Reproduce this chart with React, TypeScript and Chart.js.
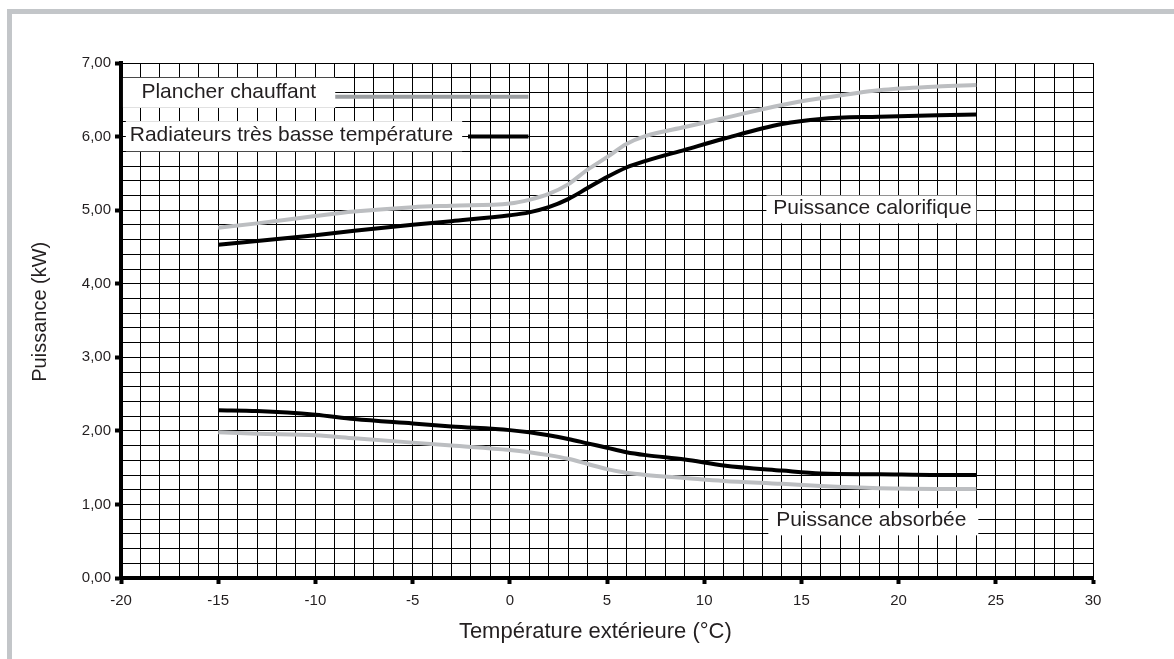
import React, { useEffect, useRef } from "react";
import { Chart, registerables } from "chart.js";

Chart.register(...registerables);

// Outside temperature (°C)
const temperatures = [-15, -13, -10, -8, -5, -3, 0, 1, 2, 3, 4, 5, 6, 7, 9, 11, 14, 16, 19, 22, 24];

// Heating power (kW)
const plancherCalorifique = [4.76, 4.82, 4.92, 4.98, 5.04, 5.06, 5.09, 5.14, 5.22, 5.35, 5.55, 5.72, 5.9, 6.01, 6.13, 6.25, 6.43, 6.52, 6.63, 6.68, 6.7];
const radiateursCalorifique = [4.53, 4.58, 4.66, 4.72, 4.8, 4.85, 4.93, 4.97, 5.04, 5.15, 5.3, 5.45, 5.58, 5.67, 5.82, 5.97, 6.17, 6.24, 6.27, 6.29, 6.3];
// Absorbed power (kW)
const radiateursAbsorbee = [2.28, 2.27, 2.22, 2.16, 2.1, 2.06, 2.01, 1.98, 1.94, 1.89, 1.83, 1.77, 1.71, 1.67, 1.61, 1.53, 1.46, 1.42, 1.41, 1.4, 1.4];
const plancherAbsorbee = [1.98, 1.96, 1.94, 1.9, 1.84, 1.8, 1.74, 1.71, 1.67, 1.62, 1.55, 1.48, 1.43, 1.4, 1.36, 1.32, 1.28, 1.25, 1.22, 1.21, 1.21];

const seriesNames = ["Plancher chauffant", "Radiateurs très basse température"];
const annotationTexts = ["Puissance calorifique", "Puissance absorbée"];
const xTitle = "Température extérieure (°C)";
const yTitle = "Puissance (kW)";

const LIGHT = "#bcbec1";
const LEGEND_LIGHT = "#9b9ea1";
const DARK = "#000000";
const TEXT = "#231f20";
const FONT = '"Liberation Sans", Arial, sans-serif';

// label boxes in data units
const labelBoxes = [
  { text: seriesNames[0], x0: -19.9, x1: -8.98, y0: 6.8, y1: 6.39, tx: -18.95, ty: 6.6, line: { x0: -8.98, x1: 0.96, y: 6.54, color: LEGEND_LIGHT } },
  { text: seriesNames[1], x0: -19.75, x1: -2.45, y0: 6.21, y1: 5.8, tx: -19.55, ty: 6.02, line: { x0: -2.15, x1: 0.96, y: 6.0, color: DARK } },
  { text: annotationTexts[0], x0: 13.2, x1: 24.0, y0: 5.2, y1: 4.82, tx: 13.55, ty: 5.03, line: null },
  { text: annotationTexts[1], x0: 13.3, x1: 24.1, y0: 0.95, y1: 0.58, tx: 13.7, ty: 0.78, line: null },
];

const toPoints = (ys: number[]) => temperatures.map((t, i) => ({ x: t, y: ys[i] }));

const boxesPlugin = {
  id: "labelBoxes",
  beforeDatasetsDraw(chart: any) {
    const { ctx, scales } = chart;
    const xs = scales.x;
    const ys = scales.y;
    ctx.save();
    for (const b of labelBoxes) {
      const x1 = xs.getPixelForValue(b.x0);
      const x2 = xs.getPixelForValue(b.x1);
      const y1 = ys.getPixelForValue(b.y0);
      const y2 = ys.getPixelForValue(b.y1);
      ctx.fillStyle = "#ffffff";
      ctx.fillRect(x1, y1, x2 - x1, y2 - y1);
      ctx.fillStyle = TEXT;
      ctx.font = `21px ${FONT}`;
      ctx.textBaseline = "middle";
      ctx.textAlign = "left";
      ctx.fillText(b.text, xs.getPixelForValue(b.tx), ys.getPixelForValue(b.ty));
      if (b.line) {
        ctx.strokeStyle = b.line.color;
        ctx.lineWidth = 4;
        ctx.beginPath();
        const ly = ys.getPixelForValue(b.line.y);
        ctx.moveTo(xs.getPixelForValue(b.line.x0), ly);
        ctx.lineTo(xs.getPixelForValue(b.line.x1), ly);
        ctx.stroke();
      }
    }
    ctx.restore();
  },
  afterDraw(chart: any) {
    const { ctx, chartArea } = chart;
    ctx.save();
    ctx.fillStyle = TEXT;
    ctx.textAlign = "center";
    ctx.textBaseline = "middle";
    ctx.font = `22px ${FONT}`;
    ctx.fillText(xTitle, chartArea.left + (chartArea.right - chartArea.left) * 0.488, chartArea.bottom + 54);
    ctx.translate(40, chartArea.top + (chartArea.bottom - chartArea.top) * 0.483);
    ctx.rotate(-Math.PI / 2);
    ctx.font = `20px ${FONT}`;
    ctx.fillText(yTitle, 0, 0);
    ctx.restore();
  },
};

const isInt = (v: number) => Math.abs(v - Math.round(v)) < 1e-6;

export default function App() {
  const ref = useRef<HTMLCanvasElement | null>(null);

  useEffect(() => {
    if (!ref.current) return;
    const mk = (label: string, data: number[], color: string) => ({
      label,
      data: toPoints(data),
      borderColor: color,
      backgroundColor: color,
      borderWidth: 4,
      pointRadius: 0,
      cubicInterpolationMode: "monotone" as const,
      fill: false,
    });
    const chart = new Chart(ref.current, {
      type: "line",
      data: {
        datasets: [
          mk(seriesNames[0] + " - " + annotationTexts[0], plancherCalorifique, LIGHT),
          mk(seriesNames[1] + " - " + annotationTexts[0], radiateursCalorifique, DARK),
          mk(seriesNames[1] + " - " + annotationTexts[1], radiateursAbsorbee, DARK),
          mk(seriesNames[0] + " - " + annotationTexts[1], plancherAbsorbee, LIGHT),
        ],
      },
      options: {
        responsive: false,
        animation: false,
        layout: { padding: { left: 0, right: 81, top: 63, bottom: 0 } },
        plugins: { legend: { display: false }, tooltip: { enabled: false } },
        scales: {
          x: {
            type: "linear",
            min: -20,
            max: 30,
            afterFit: (s: any) => {
              s.height = 81;
            },
            ticks: {
              stepSize: 1,
              autoSkip: false,
              maxRotation: 0,
              padding: 8,
              color: TEXT,
              font: { family: FONT, size: 15 },
              callback: (v: any) => (Number(v) % 5 === 0 ? String(v) : ""),
            },
            grid: {
              color: "#000",
              lineWidth: 1,
              tickLength: 6,
              tickColor: "#000",
              tickWidth: (c: any) => (c.tick && Number(c.tick.value) % 5 === 0 ? 4 : 0),
            },
            border: { display: true, color: "#000", width: 4 },
            title: { display: false, text: xTitle },
          },
          y: {
            type: "linear",
            min: 0,
            max: 7,
            afterFit: (s: any) => {
              s.width = 121;
            },
            ticks: {
              stepSize: 0.2,
              autoSkip: false,
              padding: 4,
              color: TEXT,
              font: { family: FONT, size: 15 },
              callback: (v: any) => (isInt(Number(v)) ? Number(v).toFixed(2).replace(".", ",") : ""),
            },
            grid: {
              color: "#000",
              lineWidth: 1,
              tickLength: 6,
              tickColor: "#000",
              tickWidth: (c: any) => (c.tick && isInt(Number(c.tick.value)) ? 4 : 0),
            },
            border: { display: true, color: "#000", width: 4 },
            title: { display: false, text: yTitle },
          },
        },
      },
      plugins: [boxesPlugin],
    });
    return () => chart.destroy();
  }, []);

  return (
    <div style={{ position: "absolute", left: 0, top: 0, width: 1174, height: 659, background: "#fff", overflow: "hidden" }}>
      <div
        style={{
          position: "absolute",
          left: 7,
          top: 9,
          width: 1174,
          height: 659,
          borderTop: "5px solid #c3c6c9",
          borderLeft: "5px solid #c3c6c9",
        }}
      />
      <canvas ref={ref} width={1174} height={659} style={{ position: "absolute", left: 0, top: 0, display: "block" }} />
    </div>
  );
}
